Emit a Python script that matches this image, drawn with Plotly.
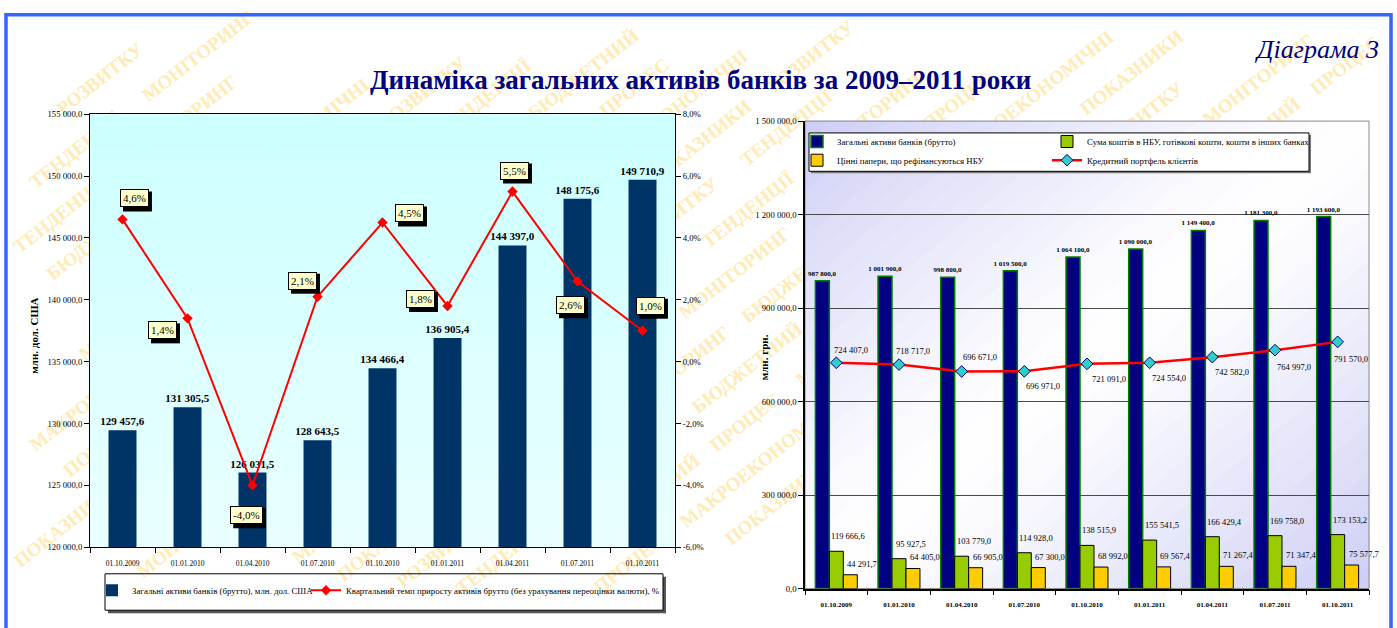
import math
import plotly.graph_objects as go

W, H = 1397, 628
SERIF = "Liberation Serif, Times New Roman, serif"

# ---------------- data ----------------
dates = ["01.10.2009", "01.01.2010", "01.04.2010", "01.07.2010", "01.10.2010",
         "01.01.2011", "01.04.2011", "01.07.2011", "01.10.2011"]
assets_usd = [129457.6, 131305.5, 126031.5, 128643.5, 134466.4, 136905.4, 144397.0, 148175.6, 149710.9]
growth_pct = [4.6, 1.4, -4.0, 2.1, 4.5, 1.8, 5.5, 2.6, 1.0]
assets_uah = [987800.0, 1001900.0, 998800.0, 1019500.0, 1064100.0, 1090000.0, 1149400.0, 1181300.0, 1193600.0]
liquid_uah = [119666.6, 95927.5, 103779.0, 114928.0, 138515.9, 155541.5, 166429.4, 169758.0, 173153.2]
securities_uah = [44291.7, 64405.0, 66905.0, 67300.0, 68992.0, 69567.4, 71267.4, 71347.4, 75577.7]
loans_uah = [724407.0, 718717.0, 696671.0, 696971.0, 721091.0, 724554.0, 742582.0, 764997.0, 791570.0]
pct_ticks = [-6, -4, -2, 0, 2, 4, 6, 8]

title_text = "Динаміка загальних активів банків за 2009–2011 роки"
diagram_text = "Діаграма 3"
name_usd = "Загальні активи банків (брутто), млн. дол. США"
name_growth = "Квартальний темп приросту активів брутто (без урахування переоцінки валюти), %"
name_assets = "Загальні активи банків (брутто)"
name_liquid = "Сума коштів в НБУ, готівкові кошти, кошти в інших банках"
name_secur = "Цінні папери, що рефінансуються НБУ"
name_loans = "Кредитний портфель клієнтів"
wm_words = ["МОНІТОРИНГ", "БЮДЖЕТНИЙ", "ПРОЦЕС", "МАКРОЕКОНОМІЧНІ", "ПОКАЗНИКИ", "РОЗВИТКУ", "ТЕНДЕНЦІЇ"]

# ---------------- helpers ----------------
def px(x):
    return x / W


def py(y):
    return 1 - y / H


def num(v):
    return f"{v:,.1f}".replace(",", " ").replace(".", ",")


def pct(v):
    return f"{v:.1f}%".replace(".", ",")


def mix(c1, c2, f):
    return "rgb(%d,%d,%d)" % tuple(round(a + (b - a) * f) for a, b in zip(c1, c2))


def text_w(s, size):
    em = {",": 0.25, "%": 0.833, "-": 0.333, " ": 0.25}
    return sum(em.get(ch, 0.5) for ch in s) * size


# label offsets (style)
pct_offsets = [(12, -21), (-25, 12), (-6, 30), (-15, -16), (27, -9), (-27, -7), (2, -21), (-7, 24), (8, -25)]
loan_offsets = [(15, -13), (14, -14), (18, -14), (19, 15), (22, 15), (19, 15), (20, 15), (19, 17), (13, 17)]

# plot boxes in pixels
L_X0, L_X1, L_Y0, L_Y1 = 90, 675, 111, 551
R_X0, R_X1, R_Y0, R_Y1 = 805, 1369, 118, 593

fig = go.Figure()

# ---------------- left chart ----------------
fig.add_trace(go.Bar(
    x=dates, y=assets_usd, xaxis="x", yaxis="y", name=name_usd, legend="legend",
    width=0.43, marker=dict(color="#003366", line=dict(width=0)),
    texttemplate="<b>%{y:,.1f}</b>", textposition="outside", constraintext="none",
    cliponaxis=False, textfont=dict(family=SERIF, size=11, color="black"),
))
fig.add_trace(go.Scatter(
    x=dates, y=growth_pct, xaxis="x", yaxis="y2", name=name_growth, legend="legend6",
    mode="lines+markers", line=dict(color="#ff0000", width=2),
    marker=dict(symbol="diamond", size=8, color="#ff0000"),
))

# ---------------- right chart ----------------
BW = 0.223
fig.add_trace(go.Bar(
    x=dates, y=assets_uah, xaxis="x2", yaxis="y3", name=name_assets, legend="legend2",
    width=BW, offset=-1.5 * BW,
    marker=dict(color="#000080", line=dict(color="#008000", width=1.5)),
    texttemplate="<b>%{y:,.1f}</b>", textposition="outside", constraintext="none",
    cliponaxis=False, textfont=dict(family=SERIF, size=7, color="black"),
))
fig.add_trace(go.Bar(
    x=dates, y=liquid_uah, xaxis="x2", yaxis="y3", name=name_liquid, legend="legend3",
    width=BW, offset=-0.5 * BW,
    marker=dict(color="#99cc00", line=dict(color="black", width=1)),
))
fig.add_trace(go.Bar(
    x=dates, y=securities_uah, xaxis="x2", yaxis="y3", name=name_secur, legend="legend4",
    width=BW, offset=0.5 * BW,
    marker=dict(color="#ffcc00", line=dict(color="black", width=1)),
))
fig.add_trace(go.Scatter(
    x=dates, y=loans_uah, xaxis="x2", yaxis="y3", name=name_loans, legend="legend5",
    mode="lines+markers", line=dict(color="#ff0000", width=2.5),
    marker=dict(symbol="diamond", size=9, color="#33cccc", line=dict(color="#000080", width=1)),
))

# ---------------- shapes (decoration) ----------------
shapes = []


def bbox_inside(x0, x1, y0, y1, box):
    return box[0] <= x0 and x1 <= box[1] and box[2] <= y0 and y1 <= box[3]


# watermark: individual rotated words, only those fully on the page
WM_SIZE = 19
ang = math.radians(38)
dvec = (math.cos(ang), -math.sin(ang))
nvec = (math.sin(ang), math.cos(ang))
for k in range(-20, 21):
    cx = W / 2 + k * 42 * nvec[0]
    cy = H / 2 + k * 42 * nvec[1]
    s = -1100 + (k * 53) % 110
    j = k % len(wm_words)
    while s < 1100:
        word = wm_words[j % len(wm_words)]
        j += 1
        lw = len(word) * WM_SIZE * 0.74
        sm = s + lw / 2
        s += lw + 22
        wx = cx + sm * dvec[0]
        wy = cy + sm * dvec[1]
        bw = lw * math.cos(ang) + WM_SIZE * math.sin(ang)
        bh = lw * math.sin(ang) + WM_SIZE * math.cos(ang)
        bx0, bx1, by0, by1 = wx - bw / 2, wx + bw / 2, wy - bh / 2, wy + bh / 2
        if bx0 < 3 or bx1 > W - 3 or by0 < 3 or by1 > H - 3:
            continue
        if bbox_inside(bx0, bx1, by0, by1, (L_X0, L_X1, L_Y0, L_Y1)) or \
                bbox_inside(bx0, bx1, by0, by1, (R_X0, R_X1, R_Y0, R_Y1)):
            continue
        shapes.append(dict(
            type="line", xref="paper", yref="paper", layer="below",
            x0=px(wx - lw / 2 * dvec[0]), y0=py(wy - lw / 2 * dvec[1]),
            x1=px(wx + lw / 2 * dvec[0]), y1=py(wy + lw / 2 * dvec[1]),
            line=dict(color="rgba(0,0,0,0)", width=0),
            label=dict(text=word, textangle=-38, textposition="middle",
                       font=dict(family=SERIF, size=WM_SIZE, color="#feebb6", weight="bold")),
        ))

# left plot background gradient
NB = 24
for i in range(NB):
    y0 = L_Y0 + (L_Y1 - L_Y0) * i / NB
    y1 = L_Y0 + (L_Y1 - L_Y0) * (i + 1) / NB
    col = mix((204, 255, 255), (234, 255, 255), (i + 0.5) / NB)
    shapes.append(dict(type="rect", xref="paper", yref="paper", layer="below",
                       x0=px(L_X0), x1=px(L_X1), y0=py(y1 + 0.5), y1=py(y0),
                       fillcolor=col, line=dict(width=0)))


# right plot background: diagonal gradient
def clip(poly, a, b, c):
    out = []
    n = len(poly)
    for i in range(n):
        P, Q = poly[i], poly[(i + 1) % n]
        fp = a * P[0] + b * P[1] - c
        fq = a * Q[0] + b * Q[1] - c
        if fp <= 0:
            out.append(P)
        if (fp < 0 < fq) or (fq < 0 < fp):
            t = fp / (fp - fq)
            out.append((P[0] + t * (Q[0] - P[0]), P[1] + t * (Q[1] - P[1])))
    return out


ND = 40
lav = (206, 206, 246)
for i in range(ND):
    s0 = 2.0 * i / ND - 0.001
    s1 = 2.0 * (i + 1) / ND + 0.001
    poly = [(0, 0), (1, 0), (1, 1), (0, 1)]
    poly = clip(poly, 1, 1, s1)
    poly = clip(poly, -1, -1, -s0)
    if len(poly) < 3:
        continue
    tm = (i + 0.5) / ND
    f = abs(2 * tm - 1) ** 1.2
    col = mix((255, 255, 255), lav, f)
    pts = [(px(R_X0 + u * (R_X1 - R_X0)), py(R_Y0 + v * (R_Y1 - R_Y0))) for u, v in poly]
    path = "M " + " L ".join(f"{a:.5f},{b:.5f}" for a, b in pts) + " Z"
    shapes.append(dict(type="path", xref="paper", yref="paper", layer="below", path=path,
                       fillcolor=col, line=dict(color=col, width=1)))

# right plot frame
shapes.append(dict(type="rect", xref="paper", yref="paper", layer="below",
                   x0=px(R_X0), x1=px(R_X1), y0=py(R_Y1), y1=py(R_Y0),
                   line=dict(color="#8a8a8a", width=1)))
# right legend box with shadow
shapes.append(dict(type="rect", xref="paper", yref="paper", layer="below",
                   x0=px(811), x1=px(1311), y0=py(171), y1=py(132),
                   fillcolor="#7a7a7a", line=dict(width=0)))
shapes.append(dict(type="rect", xref="paper", yref="paper", layer="below",
                   x0=px(809), x1=px(1309), y0=py(169), y1=py(130),
                   fillcolor="white", line=dict(color="black", width=1)))
# left legend box with shadow
shapes.append(dict(type="rect", xref="paper", yref="paper", layer="below",
                   x0=px(108), x1=px(666), y0=py(618), y1=py(615),
                   fillcolor="#555555", line=dict(width=0)))
shapes.append(dict(type="rect", xref="paper", yref="paper", layer="below",
                   x0=px(663), x1=px(666), y0=py(618), y1=py(581),
                   fillcolor="#555555", line=dict(width=0)))
shapes.append(dict(type="rect", xref="paper", yref="paper", layer="below",
                   x0=px(105), x1=px(663), y0=py(615), y1=py(578),
                   line=dict(color="black", width=1)))

# shadows of the percentage boxes (anchored to the data points, sized in pixels)
PCT_SIZE = 11
for d, v, (dx, dy) in zip(dates, growth_pct, pct_offsets):
    bw = text_w(pct(v), PCT_SIZE) + 6
    bh = 20
    shapes.append(dict(type="rect", xref="x", yref="y2", layer="above",
                       xsizemode="pixel", ysizemode="pixel", xanchor=d, yanchor=v,
                       x0=dx - bw / 2 + 3, x1=dx + bw / 2 + 3,
                       y0=-dy - bh / 2 - 3, y1=-dy + bh / 2 - 3,
                       fillcolor="black", line=dict(width=0)))

# outer blue frame
shapes.append(dict(type="rect", xref="paper", yref="paper", layer="above",
                   x0=px(6), x1=px(1391), y0=py(660), y1=py(10),
                   line=dict(color="#3366ff", width=3.5)))

# ---------------- annotations ----------------
ann = []
ann.append(dict(text="<b>" + title_text + "</b>", x=px(700), y=py(76), xref="paper", yref="paper",
                showarrow=False, xanchor="center", yanchor="middle",
                font=dict(family=SERIF, size=27, color="#000080")))
ann.append(dict(text="<i>" + diagram_text + "</i>", x=px(1381), y=py(45), xref="paper", yref="paper",
                showarrow=False, xanchor="right", yanchor="middle",
                font=dict(family=SERIF, size=26, color="#000080")))
ann.append(dict(text="<b>млн. дол. США</b>", x=px(34), y=py(336), xref="paper", yref="paper",
                showarrow=False, textangle=-90, xanchor="center", yanchor="middle",
                font=dict(family=SERIF, size=11, color="black")))
ann.append(dict(text="<b>млн. грн.</b>", x=px(764), y=py(358), xref="paper", yref="paper",
                showarrow=False, textangle=-90, xanchor="center", yanchor="middle",
                font=dict(family=SERIF, size=11, color="black")))

# percentage labels
for d, v, (dx, dy) in zip(dates, growth_pct, pct_offsets):
    ann.append(dict(text=pct(v), x=d, y=v, xref="x", yref="y2", showarrow=False,
                    xshift=dx, yshift=-dy, bgcolor="#ffffcc", bordercolor="black",
                    borderwidth=1, borderpad=2, font=dict(family=SERIF, size=PCT_SIZE, color="black")))

# right chart value labels
for d, v in zip(dates, liquid_uah):
    ann.append(dict(text=num(v), x=d, y=v, xref="x2", yref="y3", showarrow=False,
                    xshift=12, yshift=8, yanchor="bottom",
                    font=dict(family=SERIF, size=8.5, color="black")))
for d, v in zip(dates, securities_uah):
    ann.append(dict(text=num(v), x=d, y=v, xref="x2", yref="y3", showarrow=False,
                    xshift=26, yshift=4, yanchor="bottom",
                    font=dict(family=SERIF, size=8.5, color="black")))
for d, v, (dx, dy) in zip(dates, loans_uah, loan_offsets):
    ann.append(dict(text=num(v), x=d, y=v, xref="x2", yref="y3", showarrow=False,
                    xshift=dx, yshift=-dy,
                    font=dict(family=SERIF, size=8.5, color="black")))

tickfont = dict(family=SERIF, size=8.7, color="black")


def small_legend(x, y, size):
    return dict(x=px(x), y=py(y), xanchor="left", yanchor="top", orientation="h",
                bgcolor="rgba(0,0,0,0)", borderwidth=0,
                font=dict(family=SERIF, size=size, color="black"), itemwidth=30)


fig.update_layout(
    width=W, height=H, margin=dict(l=0, r=0, t=0, b=0),
    paper_bgcolor="white", plot_bgcolor="rgba(0,0,0,0)",
    separators=", ", barmode="overlay", showlegend=True,
    font=dict(family=SERIF, color="black"),
    xaxis=dict(domain=[px(L_X0), px(L_X1)], anchor="y", type="category", range=[-0.5, 8.5],
               tickson="boundaries", ticks="outside", ticklen=5, tickcolor="black",
               ticklabelstandoff=9,
               showline=True, linecolor="black", linewidth=1, mirror=True, showgrid=False,
               tickfont=dict(family=SERIF, size=7.5, color="black")),
    yaxis=dict(domain=[py(L_Y1), py(L_Y0)], anchor="x", range=[120000, 155000], dtick=5000,
               tickformat=",.1f", ticks="outside", ticklen=5, tickcolor="black",
               showline=True, linecolor="black", showgrid=False, zeroline=False, tickfont=tickfont),
    yaxis2=dict(overlaying="y", side="right", anchor="x", range=[-6, 8],
                tickvals=pct_ticks, ticktext=[pct(v) for v in pct_ticks],
                ticks="outside", ticklen=5, tickcolor="black", showline=True, linecolor="black",
                showgrid=False, zeroline=False, tickfont=tickfont),
    xaxis2=dict(domain=[px(R_X0), px(R_X1)], anchor="y3", type="category", range=[-0.5, 8.5],
                tickson="boundaries", ticks="outside", ticklen=5, tickcolor="black",
                ticklabelstandoff=8,
                showline=True, linecolor="black", linewidth=1.5, showgrid=False,
                tickfont=dict(family=SERIF, size=7, color="black", weight="bold")),
    yaxis3=dict(domain=[py(R_Y1), py(R_Y0)], anchor="x2", range=[0, 1500000], dtick=300000,
                tickformat=",.1f", ticks="outside", ticklen=5, tickcolor="black",
                showline=True, linecolor="black", linewidth=1.5, showgrid=True,
                gridcolor="#4a4a4a", gridwidth=1, zeroline=False, tickfont=tickfont),
    legend=small_legend(92, 580, 8.8),
    legend6=small_legend(306, 580, 8.8),
    legend2=small_legend(797, 124, 8.8),
    legend3=small_legend(1047, 124, 8.8),
    legend4=small_legend(797, 143, 8.8),
    legend5=small_legend(1047, 143, 8.8),
    shapes=shapes, annotations=ann,
)

fig.write_html("out.html", config={"displayModeBar": False},
               post_script="document.body.style.margin='0';document.body.style.overflow='hidden';")
